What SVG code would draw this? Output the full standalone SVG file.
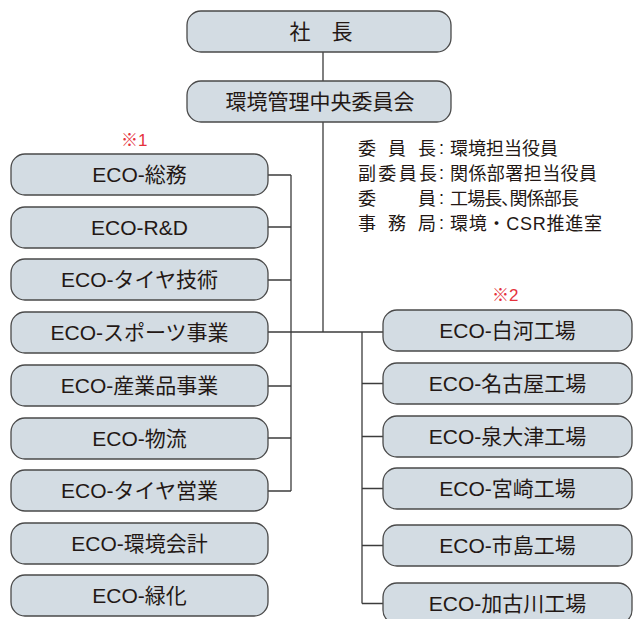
<svg xmlns="http://www.w3.org/2000/svg" width="633" height="619" viewBox="0 0 633 619">
<style>
.box{fill:#d3dce3;stroke:#4a4a4a;stroke-width:1.3}
.bt{font-family:"Liberation Sans","Noto Sans CJK JP",sans-serif;font-size:21px;fill:#231815;text-anchor:middle}
.ct{font-family:"Liberation Sans","Noto Sans CJK JP",sans-serif;font-size:18px;fill:#231815}
.red{font-family:"Liberation Sans","Noto Sans CJK JP",sans-serif;font-size:17px;fill:#e5323c}
.ln{stroke:#3c3c3c;stroke-width:1.3;fill:none}
</style>
<rect width="633" height="619" fill="#ffffff"/>
<g id="connectors">
<path class="ln" d="M323 52V81M323 122V332M268 332H383"/>
<path class="ln" d="M268 175H291M268 227H291M268 280H291M268 386H291M268 438H291M268 491H291M291 175V491"/>
<path class="ln" d="M362 332V603.5M362 383.5H383M362 436.5H383M362 488.5H383M362 545.5H383M362 603.5H383"/>
</g>
<g id="president"><rect class="box" x="187" y="11" width="264" height="41" rx="14"/><text class="bt" x="321" y="39">社　長</text></g>
<g id="committee"><rect class="box" x="187" y="81" width="264" height="41" rx="14"/><text class="bt" x="320" y="109">環境管理中央委員会</text></g>
<g id="committee-info">
<text class="ct" x="358" y="155">委</text><text class="ct" x="388" y="155">員</text><text class="ct" x="418" y="155">長</text><text class="ct" x="439" y="154">:</text><text class="ct" x="450" y="155">環境担当役員</text>
<text class="ct" x="358" y="180" textLength="79">副委員長</text><text class="ct" x="439" y="179">:</text><text class="ct" x="450" y="180" textLength="147">関係部署担当役員</text>
<text class="ct" x="358" y="205">委</text><text class="ct" x="418" y="205">員</text><text class="ct" x="439" y="204">:</text><text class="ct" x="450" y="205" textLength="129">工場長､関係部長</text>
<text class="ct" x="358" y="230">事</text><text class="ct" x="388" y="230">務</text><text class="ct" x="418" y="230">局</text><text class="ct" x="439" y="229">:</text><text class="ct" x="450" y="230" textLength="152">環境・CSR推進室</text>
</g>
<text class="red" x="121" y="146">※1</text>
<text class="red" x="492" y="301">※2</text>
<g id="eco-soumu"><rect class="box" x="11" y="154" width="257" height="41" rx="14"/><text class="bt" x="139.5" y="182">ECO-総務</text></g>
<g id="eco-rd"><rect class="box" x="11" y="207" width="257" height="41" rx="14"/><text class="bt" x="139.5" y="235">ECO-R&amp;D</text></g>
<g id="eco-tire-tech"><rect class="box" x="11" y="259" width="257" height="41" rx="14"/><text class="bt" x="139.5" y="287">ECO-タイヤ技術</text></g>
<g id="eco-sports"><rect class="box" x="11" y="312" width="257" height="41" rx="14"/><text class="bt" x="139.5" y="340">ECO-スポーツ事業</text></g>
<g id="eco-industrial"><rect class="box" x="11" y="365" width="257" height="41" rx="14"/><text class="bt" x="139.5" y="393">ECO-産業品事業</text></g>
<g id="eco-logistics"><rect class="box" x="11" y="418" width="257" height="41" rx="14"/><text class="bt" x="139.5" y="446">ECO-物流</text></g>
<g id="eco-tire-sales"><rect class="box" x="11" y="470" width="257" height="41" rx="14"/><text class="bt" x="139.5" y="498">ECO-タイヤ営業</text></g>
<g id="eco-accounting"><rect class="box" x="11" y="523" width="257" height="41" rx="14"/><text class="bt" x="139.5" y="551">ECO-環境会計</text></g>
<g id="eco-greening"><rect class="box" x="11" y="575" width="257" height="41" rx="14"/><text class="bt" x="139.5" y="603">ECO-緑化</text></g>
<g id="eco-shirakawa"><rect class="box" x="383" y="310" width="249" height="41" rx="14"/><text class="bt" x="507.5" y="338">ECO-白河工場</text></g>
<g id="eco-nagoya"><rect class="box" x="383" y="363" width="249" height="41" rx="14"/><text class="bt" x="507.5" y="391">ECO-名古屋工場</text></g>
<g id="eco-izumiotsu"><rect class="box" x="383" y="416" width="249" height="41" rx="14"/><text class="bt" x="507.5" y="444">ECO-泉大津工場</text></g>
<g id="eco-miyazaki"><rect class="box" x="383" y="468" width="249" height="41" rx="14"/><text class="bt" x="507.5" y="496">ECO-宮崎工場</text></g>
<g id="eco-ichijima"><rect class="box" x="383" y="525" width="249" height="41" rx="14"/><text class="bt" x="507.5" y="553">ECO-市島工場</text></g>
<g id="eco-kakogawa"><rect class="box" x="383" y="583" width="249" height="41" rx="14"/><text class="bt" x="507.5" y="611">ECO-加古川工場</text></g>
</svg>
